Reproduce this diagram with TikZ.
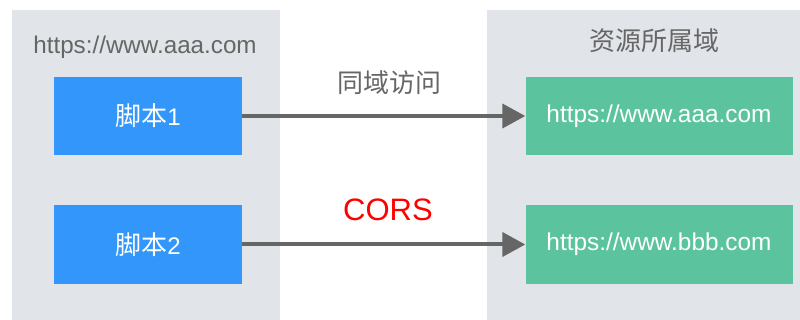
\documentclass[tikz,border=0pt]{standalone}
\usepackage{fontspec}
\setmainfont{Liberation Sans}
\newfontfamily\cjk{Noto Sans CJK SC}
\usetikzlibrary{arrows.meta}
\definecolor{panelgray}{HTML}{E1E4E8}
\definecolor{boxblue}{HTML}{3396FB}
\definecolor{boxgreen}{HTML}{5BC49F}
\definecolor{arrowgray}{HTML}{666666}
\definecolor{titlegray}{HTML}{666666}
\tikzset{
  panel/.style={fill=panelgray, draw=none, inner sep=0pt, anchor=north west},
  srcbox/.style={fill=boxblue, draw=none, minimum width=188pt, minimum height=78pt, inner sep=0pt, text=white, font=\fontsize{24}{28}\selectfont},
  dstbox/.style={fill=boxgreen, draw=none, minimum width=267pt, minimum height=78pt, inner sep=0pt, text=white, font=\fontsize{24.4}{28}\selectfont},
  ttl/.style={text=titlegray, inner sep=0pt, font=\fontsize{24.2}{28}\selectfont},
  conn/.style={draw=arrowgray, line width=4pt, -{Triangle[length=23pt,width=24pt]}},
}
\begin{document}
\begin{tikzpicture}[x=1pt,y=-1pt]
\useasboundingbox (0,0) rectangle (800,320);
\fill[white] (0,0) rectangle (800,320);
\node[panel, minimum width=268pt, minimum height=310pt] (lp) at (12,10) {};
\node[panel, minimum width=313pt, minimum height=310pt] (rp) at (487,10) {};
\node[ttl] (lt) at (145,47) {https://www.aaa.com};
\node[ttl] (rt) at (654,41) {\cjk\fontsize{26}{30}\selectfont 资源所属域};
\node[srcbox] (b1) at (148,116) {{\cjk\fontsize{26}{30}\selectfont 脚本}1};
\node[srcbox] (b2) at (148,244.5) {{\cjk\fontsize{26}{30}\selectfont 脚本}2};
\node[dstbox] (g1) at (659,116) {https://www.aaa.com};
\node[dstbox] (g2) at (659,244.5) {https://www.bbb.com};
\draw[conn] (b1.east) -- (g1.west);
\draw[conn] (b2.east) -- (g2.west);
\node[ttl] (l1) at (389,83) {\cjk\fontsize{26}{30}\selectfont 同域访问};
\node[text=red, inner sep=0pt, font=\fontsize{31}{36}\selectfont] (l2) at (388,210) {CORS};
\end{tikzpicture}
\end{document}
